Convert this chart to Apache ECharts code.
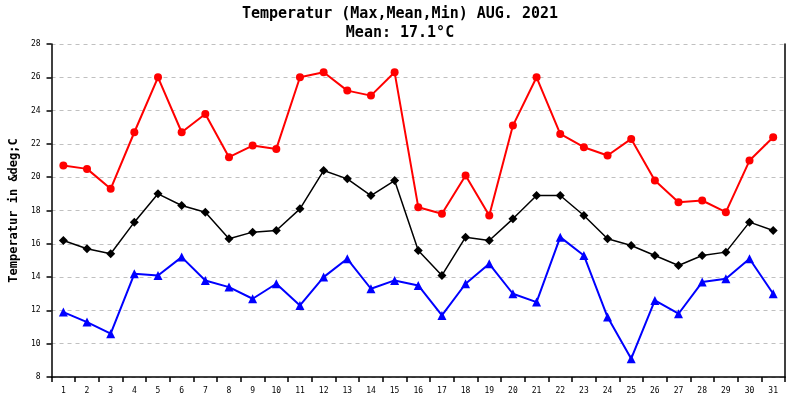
<!DOCTYPE html>
<html>
<head>
<meta charset="utf-8">
<script src="https://cdn.jsdelivr.net/npm/echarts@6/dist/echarts.min.js"></script>
<style>
  html, body { margin: 0; padding: 0; background: #fff; }
  #chart { width: 800px; height: 400px; }
</style>
</head>
<body>
<div id="chart"></div>
<script>
const days = Array.from({ length: 31 }, (_, i) => String(i + 1));

const maxTemp = [20.7, 20.5, 19.3, 22.7, 26.0, 22.7, 23.8, 21.2, 21.9, 21.7,
  26.0, 26.3, 25.2, 24.9, 26.3, 18.2, 17.8, 20.1, 17.7, 23.1,
  26.0, 22.6, 21.8, 21.3, 22.3, 19.8, 18.5, 18.6, 17.9, 21.0, 22.4];

const meanTemp = [16.2, 15.7, 15.4, 17.3, 19.0, 18.3, 17.9, 16.3, 16.7, 16.8,
  18.1, 20.4, 19.9, 18.9, 19.8, 15.6, 14.1, 16.4, 16.2, 17.5,
  18.9, 18.9, 17.7, 16.3, 15.9, 15.3, 14.7, 15.3, 15.5, 17.3, 16.8];

const minTemp = [11.9, 11.3, 10.6, 14.2, 14.1, 15.2, 13.8, 13.4, 12.7, 13.6,
  12.3, 14.0, 15.1, 13.3, 13.8, 13.5, 11.7, 13.6, 14.8, 13.0,
  12.5, 16.4, 15.3, 11.6, 9.1, 12.6, 11.8, 13.7, 13.9, 15.1, 13.0];

const monthMean = meanTemp.reduce((a, b) => a + b, 0) / meanTemp.length;

const mono = 'DejaVu Sans Mono';
const chart = echarts.init(document.getElementById('chart'));

function lineSeries(name, data, color, symbol, size, width) {
  return {
    name,
    type: 'line',
    data,
    symbol,
    symbolSize: size,
    showSymbol: true,
    lineStyle: { color, width },
    itemStyle: { color },
    emphasis: { disabled: true },
  };
}

chart.setOption({
  animation: false,
  backgroundColor: '#fff',
  title: {
    text: 'Temperatur (Max,Mean,Min) AUG. 2021',
    subtext: `Mean: ${monthMean.toFixed(1)}°C`,
    left: 'center',
    top: 2,
    itemGap: 4,
    textStyle: { fontFamily: mono, fontSize: 15, fontWeight: 'bold', color: '#000' },
    subtextStyle: { fontFamily: mono, fontSize: 15, fontWeight: 'bold', color: '#000' },
  },
  grid: { left: 43, right: 15, top: 44, bottom: 23 },
  xAxis: {
    type: 'category',
    data: days,
    boundaryGap: true,
    axisLine: { lineStyle: { color: '#000', width: 1.5 } },
    axisTick: { show: true, length: 5, inside: false, lineStyle: { color: '#000', width: 1.5 } },
    axisLabel: { fontFamily: mono, fontSize: 8, color: '#000', margin: 10, interval: 0 },
    splitLine: { show: false },
  },
  yAxis: [
    {
      type: 'value',
      min: 8,
      max: 28,
      interval: 2,
      name: 'Temperatur in &deg;C',
      nameLocation: 'middle',
      nameGap: 26,
      nameTextStyle: { fontFamily: mono, fontSize: 12, fontWeight: 'bold', color: '#000' },
      axisLine: { show: true, lineStyle: { color: '#000', width: 1.5 } },
      axisTick: { show: true, length: 5, lineStyle: { color: '#000', width: 1.5 } },
      axisLabel: { fontFamily: mono, fontSize: 8, color: '#000', margin: 11 },
      splitLine: { show: true, lineStyle: { color: '#c0c0c0', type: [4, 4], width: 1 } },
    },
    {
      type: 'value',
      min: 8,
      max: 28,
      position: 'right',
      axisLine: { show: true, lineStyle: { color: '#000', width: 1.5 } },
      axisTick: { show: false },
      axisLabel: { show: false },
      splitLine: { show: false },
    },
  ],
  series: [
    lineSeries('Max', maxTemp, '#ff0000', 'circle', 8, 2),
    lineSeries('Mean', meanTemp, '#000000', 'diamond', 9, 1.5),
    lineSeries('Min', minTemp, '#0000ff', 'triangle', 9, 2),
  ],
});

window.addEventListener('resize', () => chart.resize());
</script>
</body>
</html>
